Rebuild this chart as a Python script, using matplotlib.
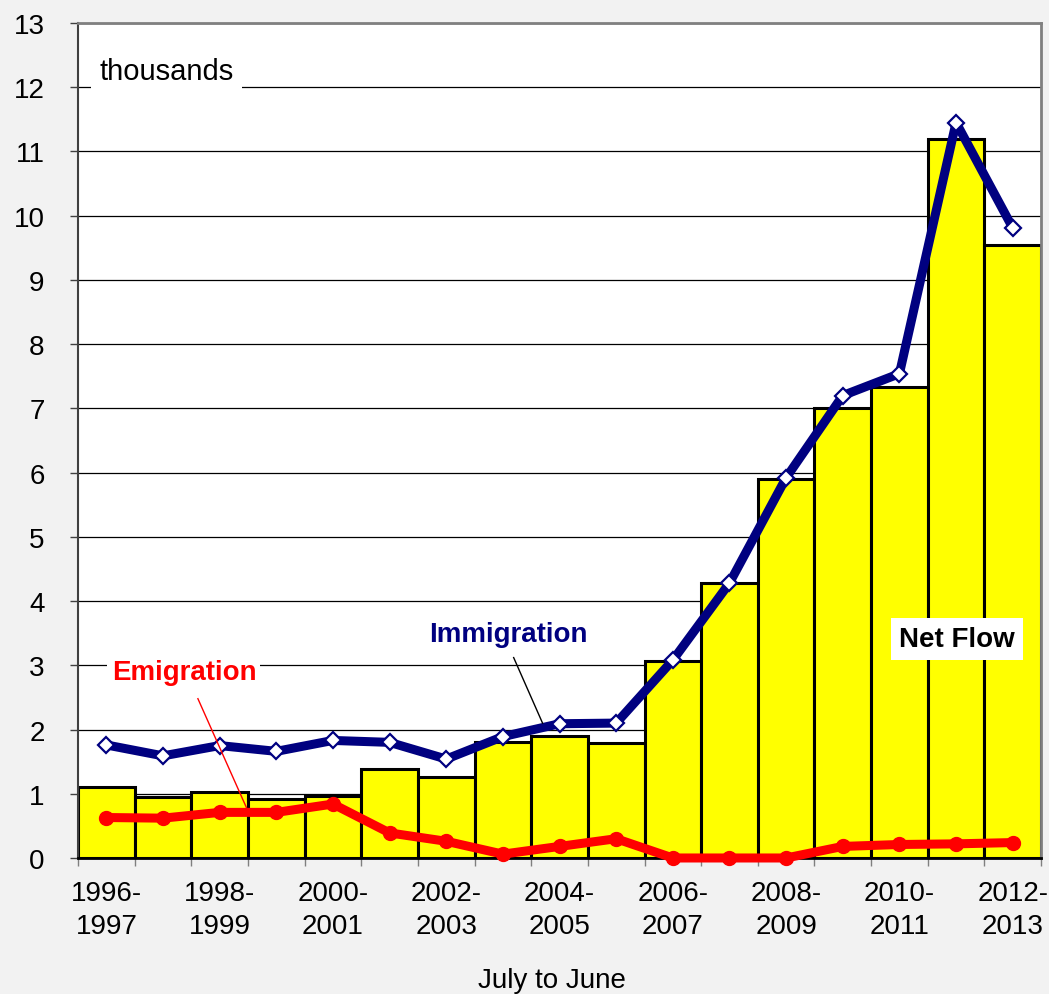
import numpy as np
import matplotlib.pyplot as plt

plt.rcParams['font.family'] = ['Liberation Sans', 'DejaVu Sans']

# Flows by year, July to June (thousands)
periods = ['1996-\n1997', '1997-\n1998', '1998-\n1999', '1999-\n2000', '2000-\n2001',
           '2001-\n2002', '2002-\n2003', '2003-\n2004', '2004-\n2005', '2005-\n2006',
           '2006-\n2007', '2007-\n2008', '2008-\n2009', '2009-\n2010', '2010-\n2011',
           '2011-\n2012', '2012-\n2013']
net_flow = [1.11, 0.95, 1.02, 0.92, 0.96, 1.39, 1.26, 1.81, 1.90, 1.79,
            3.07, 4.28, 5.90, 7.00, 7.33, 11.20, 9.55]
immigration = [1.76, 1.59, 1.75, 1.66, 1.83, 1.80, 1.54, 1.89, 2.09, 2.10,
               3.08, 4.28, 5.92, 7.20, 7.54, 11.45, 9.81]
emigration = [0.63, 0.62, 0.71, 0.71, 0.84, 0.39, 0.26, 0.06, 0.18, 0.30,
              0.00, 0.00, 0.00, 0.18, 0.21, 0.22, 0.24]

x = np.arange(len(periods))

fig = plt.figure(figsize=(10.49, 9.95), dpi=100, facecolor='#f2f2f2')
ax = fig.add_axes([0.0744, 0.1367, 0.918, 0.8392])
ax.set_facecolor('white')

ax.bar(x, net_flow, width=1.0, color='#ffff00', edgecolor='black', linewidth=2.2, zorder=2)
ax.plot(x, emigration, color='#ff0000', linewidth=6.5, marker='o', markersize=10,
        markerfacecolor='#ff0000', markeredgecolor='#ff0000', zorder=4, clip_on=False)
ax.plot(x, immigration, color='#000080', linewidth=6.5, marker='D', markersize=8,
        markerfacecolor='white', markeredgecolor='#000080', markeredgewidth=1.6, zorder=5)

ax.set_xlim(-0.5, len(periods) - 0.5)
ax.set_ylim(0, 13)
ax.set_yticks(range(0, 14))
ax.yaxis.grid(True, color='black', linewidth=0.9, zorder=0)
ax.set_axisbelow(True)
ax.tick_params(axis='y', labelsize=20, length=6, width=1, color='#404040', pad=18)

# tick marks on bar edges, labels under every second bar
ax.set_xticks(np.arange(-0.5, len(periods), 1.0))
ax.set_xticklabels([])
ax.tick_params(axis='x', which='major', length=6, width=1, color='#808080')
ax.set_xticks(x[::2], minor=True)
ax.set_xticklabels(periods[::2], minor=True, fontsize=20, linespacing=1.35)
ax.tick_params(axis='x', which='minor', length=0, pad=16)

for side in ['top', 'right']:
    ax.spines[side].set_color('#808080')
    ax.spines[side].set_linewidth(2)
ax.spines['left'].set_color('#404040')
ax.spines['left'].set_linewidth(1.5)
ax.spines['bottom'].set_color('black')
ax.spines['bottom'].set_linewidth(2)

ax.text(0.022, 0.943, 'thousands', transform=ax.transAxes, fontsize=21, va='center',
        ha='left', bbox=dict(facecolor='white', edgecolor='none', pad=6), zorder=6)

ax.annotate('Emigration', xy=(2.485, 0.76), xytext=(1.37, 2.90), fontsize=20,
            fontweight='bold', color='#ff0000', ha='center', va='center', zorder=6,
            bbox=dict(facecolor='white', edgecolor='none', pad=3))
ax.plot([1.616, 2.485], [2.48, 0.76], color='#ff0000', linewidth=1, zorder=6)

ax.text(7.10, 3.48, 'Immigration', fontsize=20, fontweight='bold', color='#000080',
        ha='center', va='center', zorder=6)
ax.plot([7.19, 7.70], [3.12, 2.10], color='black', linewidth=1, zorder=6)

ax.text(15.02, 3.41, 'Net Flow', fontsize=20, fontweight='bold', color='black',
        ha='center', va='center', zorder=6,
        bbox=dict(facecolor='white', edgecolor='none', pad=6))

fig.text(552 / 1049, 1 - 981 / 995, 'July to June', fontsize=20, ha='center', va='center')

fig.savefig('out.png', dpi=100, facecolor=fig.get_facecolor())
